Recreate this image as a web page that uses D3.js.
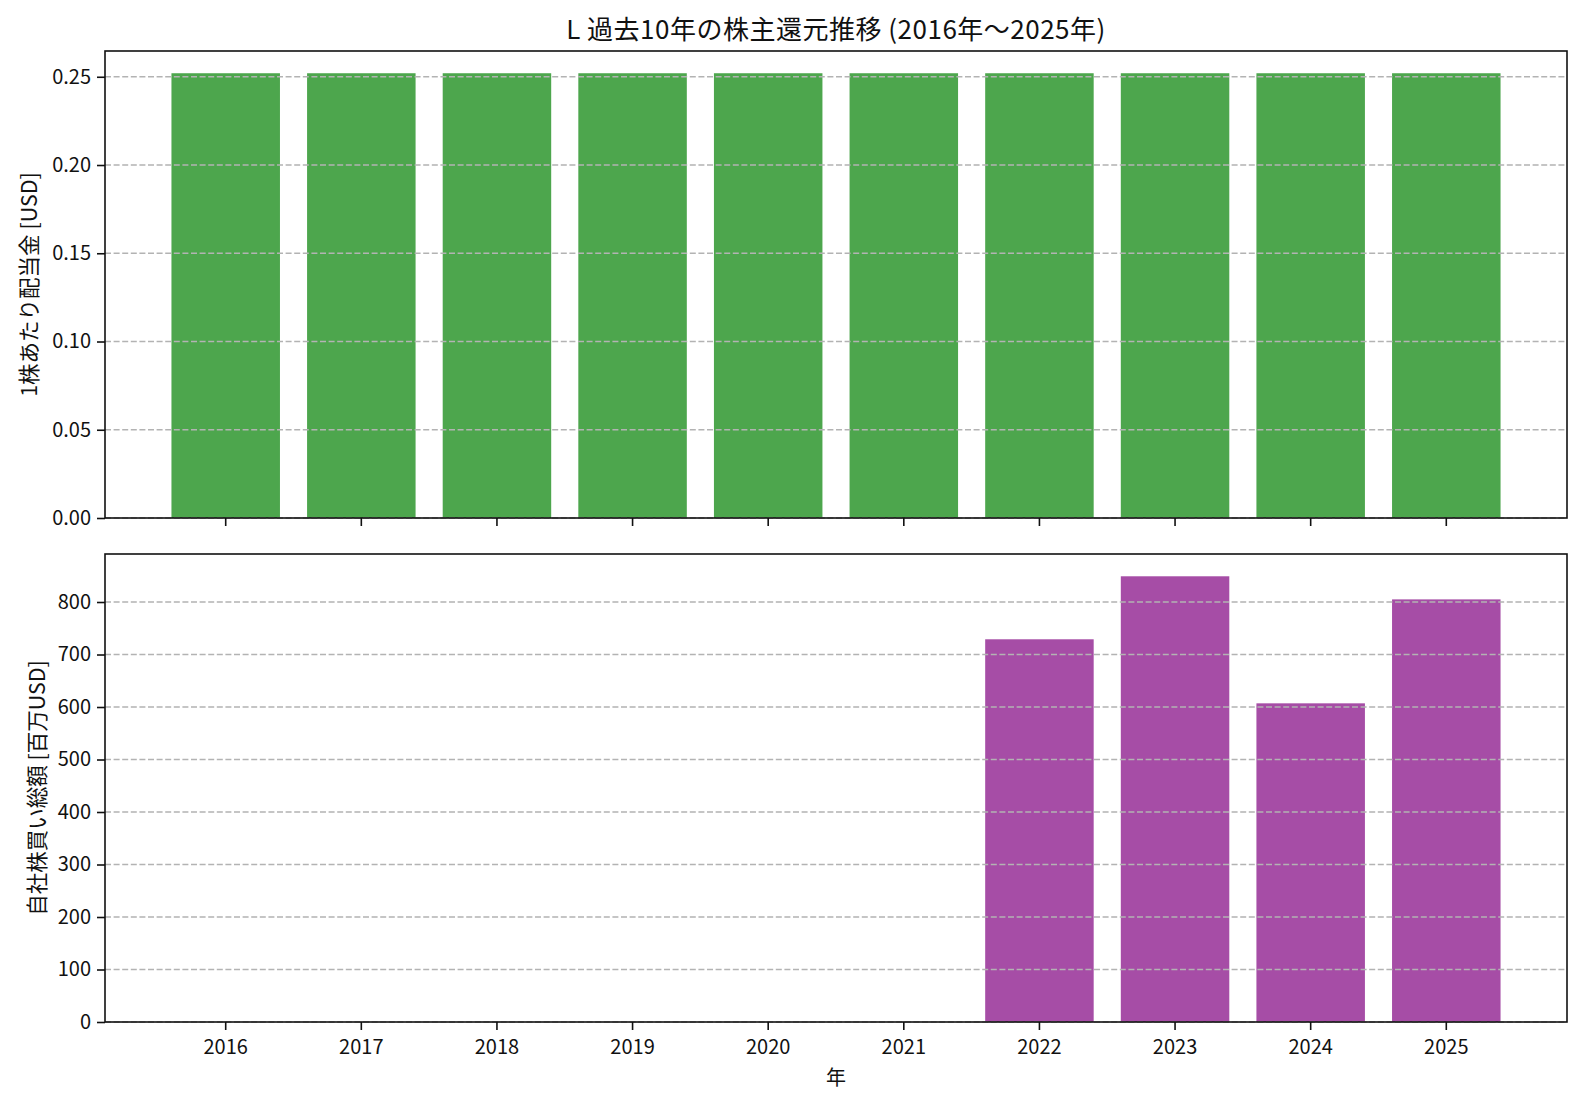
<!DOCTYPE html>
<html>
<head>
<meta charset="utf-8">
<title>株主還元推移</title>
<script src="https://d3js.org/d3.v7.min.js"></script>
<style>
  body { margin: 0; background: #fff; }
  svg text { font-family: "Noto Sans CJK JP", sans-serif; fill: #111; }
  .tick text { font-size: 20px; }
  .domain, .tick line { stroke: #111; }
</style>
</head>
<body>
<div id="chart"></div>
<script>
// データ
var years = ['2016', '2017', '2018', '2019', '2020', '2021', '2022', '2023', '2024', '2025'];
var dividends = [0.252, 0.252, 0.252, 0.252, 0.252, 0.252, 0.252, 0.252, 0.252, 0.252];
var buybacks = [0, 0, 0, 0, 0, 0, 729, 849, 607, 805];
var divTicks = [0, 0.05, 0.10, 0.15, 0.20, 0.25];
var buyTicks = [0, 100, 200, 300, 400, 500, 600, 700, 800];

var width = 1582, height = 1102;
var left = 105, right = 1567;

var svg = d3.select('#chart').append('svg')
  .attr('width', width)
  .attr('height', height);

// x軸（両パネル共通）
var xScale = d3.scaleBand()
  .domain(years)
  .range([left, right])
  .paddingInner(0.2)
  .paddingOuter(0.49);

function panel(values, ticks, fmt, top, bottom, color, ylabel, showXLabels) {
  var yScale = d3.scaleLinear()
    .domain([0, d3.max(values) * 1.05])
    .range([bottom, top]);

  var g = svg.append('g');

  // 棒
  g.selectAll('rect')
    .data(values)
    .enter()
    .append('rect')
      .attr('x', function(d, i) { return xScale(years[i]); })
      .attr('y', function(d) { return yScale(d); })
      .attr('width', xScale.bandwidth())
      .attr('height', function(d) { return bottom - yScale(d); })
      .attr('fill', color);

  // グリッド（棒の上に描く）
  g.selectAll('line.grid')
    .data(ticks)
    .enter()
    .append('line')
      .attr('class', 'grid')
      .attr('x1', left)
      .attr('x2', right)
      .attr('y1', function(d) { return yScale(d); })
      .attr('y2', function(d) { return yScale(d); })
      .attr('stroke', '#b3b3b3')
      .attr('stroke-width', 1.6)
      .attr('stroke-dasharray', '6,2.6');

  // y軸
  g.append('g')
    .attr('transform', 'translate(' + left + ',0)')
    .call(d3.axisLeft(yScale).tickValues(ticks).tickFormat(fmt).tickSize(8).tickPadding(6).tickSizeOuter(0))
    .call(function(s) { s.selectAll('.tick line').attr('stroke-width', 1.6); s.select('.domain').remove(); });

  // x軸
  g.append('g')
    .attr('transform', 'translate(0,' + bottom + ')')
    .call(d3.axisBottom(xScale).tickSize(8).tickPadding(10).tickSizeOuter(0))
    .call(function(s) {
      s.selectAll('.tick line').attr('stroke-width', 1.6);
      s.select('.domain').remove();
      if (!showXLabels) s.selectAll('.tick text').remove();
    });

  // 枠
  g.append('rect')
    .attr('x', left)
    .attr('y', top)
    .attr('width', right - left)
    .attr('height', bottom - top)
    .attr('fill', 'none')
    .attr('stroke', '#111')
    .attr('stroke-width', 1.6);

  // y軸ラベル
  g.append('text')
    .attr('transform', 'translate(' + ylabel.x + ',' + (top + bottom) / 2 + ') rotate(-90)')
    .attr('text-anchor', 'middle')
    .attr('dominant-baseline', 'central')
    .style('font-size', '21.5px')
    .text(ylabel.text);
}

panel(dividends, divTicks, d3.format('.2f'), 51, 518, '#4da64d',
  { x: 27, text: '1株あたり配当金 [USD]' }, false);
panel(buybacks, buyTicks, d3.format('d'), 554, 1022, '#a64da6',
  { x: 35, text: '自社株買い総額 [百万USD]' }, true);

// タイトル
svg.append('text')
  .attr('x', (left + right) / 2)
  .attr('y', 27)
  .attr('text-anchor', 'middle')
  .attr('dominant-baseline', 'central')
  .style('font-size', '26px')
  .style('letter-spacing', '0.5px')
  .text('L 過去10年の株主還元推移 (2016年～2025年)');

// x軸ラベル
svg.append('text')
  .attr('x', (left + right) / 2)
  .attr('y', 1076)
  .attr('text-anchor', 'middle')
  .attr('dominant-baseline', 'central')
  .style('font-size', '20px')
  .text('年');
</script>
</body>
</html>
